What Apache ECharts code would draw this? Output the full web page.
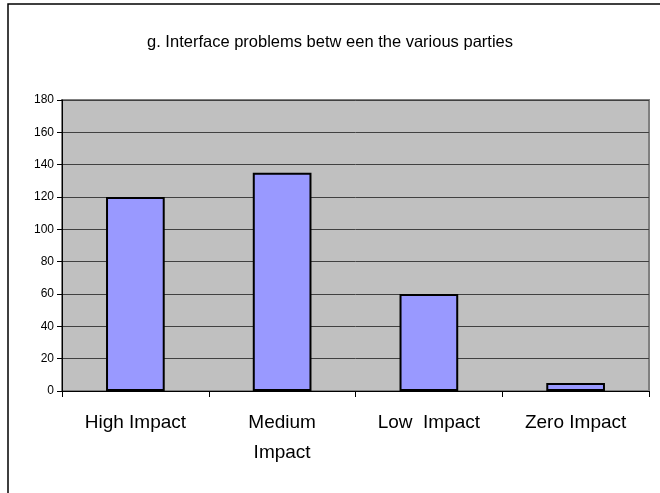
<!DOCTYPE html>
<html>
<head>
<meta charset="utf-8">
<script src="https://cdn.jsdelivr.net/npm/echarts@6/dist/echarts.min.js"></script>
<style>
  html, body { margin: 0; padding: 0; background: #fff; }
  #chart { width: 660px; height: 493px; }
</style>
</head>
<body>
<div id="chart"></div>
<script>
  // chart data
  var categories = ['High Impact', 'Medium\nImpact', 'Low  Impact', 'Zero Impact'];
  var counts = [120, 135, 60, 5];
  var yTicks = { min: 0, max: 180, interval: 20 };

  var chart = echarts.init(document.getElementById('chart'));
  chart.setOption({
    animation: false,
    backgroundColor: '#fff',
    title: {
      text: 'g. Interface problems betw een the various parties',
      left: 'center',
      top: 29,
      textStyle: {
        fontFamily: 'Liberation Sans, Arial, sans-serif',
        fontSize: 16.5,
        fontWeight: 'normal',
        color: '#000'
      }
    },
    graphic: [{
      type: 'rect',
      shape: { x: 8, y: 4, width: 680, height: 520 },
      style: { fill: 'none', stroke: '#000', lineWidth: 1.5 },
      silent: true
    }],
    grid: {
      left: 62, right: 11, top: 100, bottom: 102,
      show: true,
      backgroundColor: '#C0C0C0',
      borderColor: '#808080',
      borderWidth: 2
    },
    xAxis: {
      type: 'category',
      data: categories,
      axisLine: { lineStyle: { color: '#000', width: 1 } },
      axisTick: { show: true, length: 6, lineStyle: { color: '#000' } },
      axisLabel: {
        color: '#000',
        fontFamily: 'Liberation Sans, Arial, sans-serif',
        fontSize: 19,
        margin: 17,
        lineHeight: 30,
        interval: 0
      }
    },
    yAxis: {
      type: 'value',
      min: yTicks.min,
      max: yTicks.max,
      interval: yTicks.interval,
      axisLine: { show: true, lineStyle: { color: '#000', width: 1 } },
      axisTick: { show: true, length: 5, lineStyle: { color: '#000' } },
      axisLabel: {
        color: '#000',
        fontFamily: 'Liberation Sans, Arial, sans-serif',
        fontSize: 12,
        margin: 8
      },
      splitLine: { show: true, lineStyle: { color: '#404040', width: 1 } }
    },
    series: [{
      type: 'bar',
      data: counts,
      barWidth: '40%',
      itemStyle: { color: '#9999FF', borderColor: '#000', borderWidth: 2 }
    }]
  });
</script>
</body>
</html>
